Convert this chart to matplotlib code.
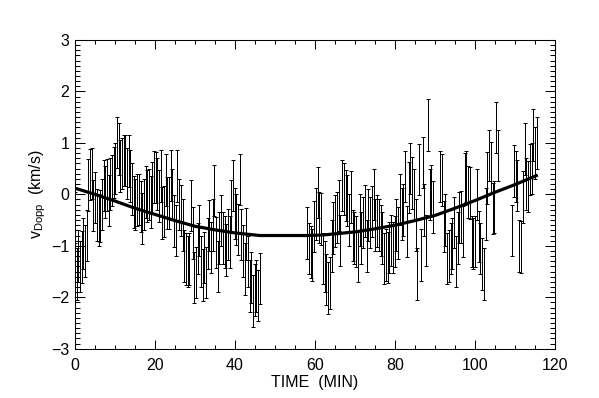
import matplotlib

matplotlib.use("Agg")
import matplotlib.pyplot as plt  # noqa: E402
import numpy as np  # noqa: E402
from matplotlib.ticker import MultipleLocator  # noqa: E402

# Observing runs: (first time, last time) in minutes, and the Doppler velocity
# at each sample of that run (km/s).
RUN_START = [0.0, 58.0, 91.25, 109.3]
RUN_END = [46.2, 89.5, 105.7, 115.45]
RUN_VDOPP = [
    [-0.45, -1.55, -1.20, -1.40, -1.22, -0.95, -1.10, -0.80, 0.18, 0.39,
     0.40, -0.22, -0.06, -0.40, -0.50, -0.42, -0.20, 0.17, 0.05, 0.18,
     -0.12, 0.20, 0.27, 0.43, 0.50, 1.01, 0.88, 0.55, 0.60, 0.66,
     0.66, 0.40, 0.65, 0.36, 0.10, -0.15, -0.20, -0.11, -0.10, -0.24,
     -0.47, -0.20, 0.05, -0.03, 0.00, -0.15, 0.12, 0.34, 0.33, 0.20,
     -0.03, 0.36, -0.36, -0.33, 0.28, -0.17, -0.17,
     0.37, 0.00, -0.52, -0.70, 0.36, -0.20, -0.31, -0.60, -1.20, -1.26,
     -1.30, -1.26, -0.22, -0.75, -1.62, -1.52, -1.05, -0.70, -1.30, -1.57,
     -1.23, -1.52, -0.96, -0.61, -1.03, -0.60, 0.07, -0.94, -1.40, -0.85,
     -0.51, -0.85, -0.93, -1.08, -0.78, -0.93, -0.23, 0.17, -0.37, -0.49,
     -0.68, 0.29, -0.78, -1.10, -1.45, -0.77, -1.30, -1.78, -1.62, -2.07,
     -1.86, -1.78, -1.97, -1.64],
    [-0.75, -1.05, -1.12, -1.18, -0.62, -0.38, 0.04, -0.45, -0.48, -1.25,
     -1.40, -1.65, -1.82, -1.72, -1.00, -0.65, -0.52, -0.45, -0.22, -0.90,
     0.17, 0.10, -0.02, -0.12, -0.50, -0.05, -0.80, -0.85, -0.92, -1.20,
     -0.50, -0.85, -0.55, -0.32,
     -1.00, -0.40, -0.55, -0.33, 0.00, -0.60, -0.52, -0.60, -0.70, -0.85,
     -1.25, -1.18, -1.23, -1.03, -0.90, -1.03, -0.92, -0.60, -0.75, -0.10,
     -0.38, -0.30, 0.35, -0.72, 0.13, 0.50, 0.22, 0.00, -0.60, -1.55,
     0.48, -1.18, 0.62, -0.30, -0.90, 1.35, 0.00, 0.08, -0.25],
    [0.35, 0.28, -0.62, -0.50, -1.25, -1.20, -1.05, -0.95, -0.55, -1.30,
     -0.85, -0.45, -0.44, -0.72, 0.30, 0.35, 0.05, 0.03, -0.92, -0.95,
     -0.92, 0.00, -0.82, -1.05, -1.35, -1.55, -0.38, 0.32, 0.75, 0.52,
     -0.27, -0.25, 1.30, 0.76],
    [-0.70, 0.45, 0.35, 0.17, -1.00, -1.02, -0.05, 0.88, 0.20, 0.15,
     0.48, 0.50, 1.15, 0.80, 1.00],
]
SIGMA = 0.5  # km/s, error bar half-length

# Smooth trend curve.
FIT_T = [0.0, 5.0, 10.0, 15.0, 20.0, 25.0, 30.0, 35.0, 40.0, 46.2,
         58.0, 62.0, 66.0, 70.0, 75.0, 80.0, 85.0, 90.0, 95.0, 100.0,
         105.0, 110.0, 115.7]
FIT_V = [0.12, 0.00, -0.13, -0.27, -0.39, -0.51, -0.62, -0.69, -0.75, -0.80,
         -0.80, -0.79, -0.76, -0.73, -0.67, -0.60, -0.51, -0.41, -0.27, -0.12,
         0.04, 0.19, 0.375]

plt.rcParams["font.family"] = ["Liberation Sans", "DejaVu Sans"]
plt.rcParams["mathtext.default"] = "regular"

fig = plt.figure(figsize=(5.99, 3.98), dpi=100)
ax = fig.add_axes([75 / 599, 1 - 348.7 / 398, 480 / 599, 308.7 / 398])

for t0, t1, v in zip(RUN_START, RUN_END, RUN_VDOPP):
    t = np.linspace(t0, t1, len(v))
    bars = ax.errorbar(t, v, yerr=SIGMA, fmt="none", ecolor="black",
                       elinewidth=0.72, capsize=1.4, capthick=0.72)
    for art in bars.lines[1] + bars.lines[2]:
        art.set_antialiased(False)

ax.plot(FIT_T, FIT_V, color="black", lw=2.3, solid_capstyle="butt",
        solid_joinstyle="round", zorder=4)

ax.set_xlim(0, 120)
ax.set_ylim(-3, 3)
ax.xaxis.set_major_locator(MultipleLocator(20))
ax.xaxis.set_minor_locator(MultipleLocator(5))
ax.yaxis.set_major_locator(MultipleLocator(1))
ax.yaxis.set_minor_locator(MultipleLocator(0.1))
ax.tick_params(which="both", direction="in", top=True, right=True,
               width=0.75, labelsize=11.5)
ax.tick_params(axis="x", which="major", length=6.5, pad=7)
ax.tick_params(axis="x", which="minor", length=3.2)
ax.tick_params(axis="y", which="major", length=7, pad=4)
ax.tick_params(axis="y", which="minor", length=3.5)
for s in ax.spines.values():
    s.set_linewidth(0.75)

ax.set_xlabel("TIME  (MIN)", fontsize=11.5, labelpad=1)
ax.set_ylabel("v$_{Dopp}$  (km/s)", fontsize=11.5, labelpad=2)

fig.savefig("out.png", dpi=100)
